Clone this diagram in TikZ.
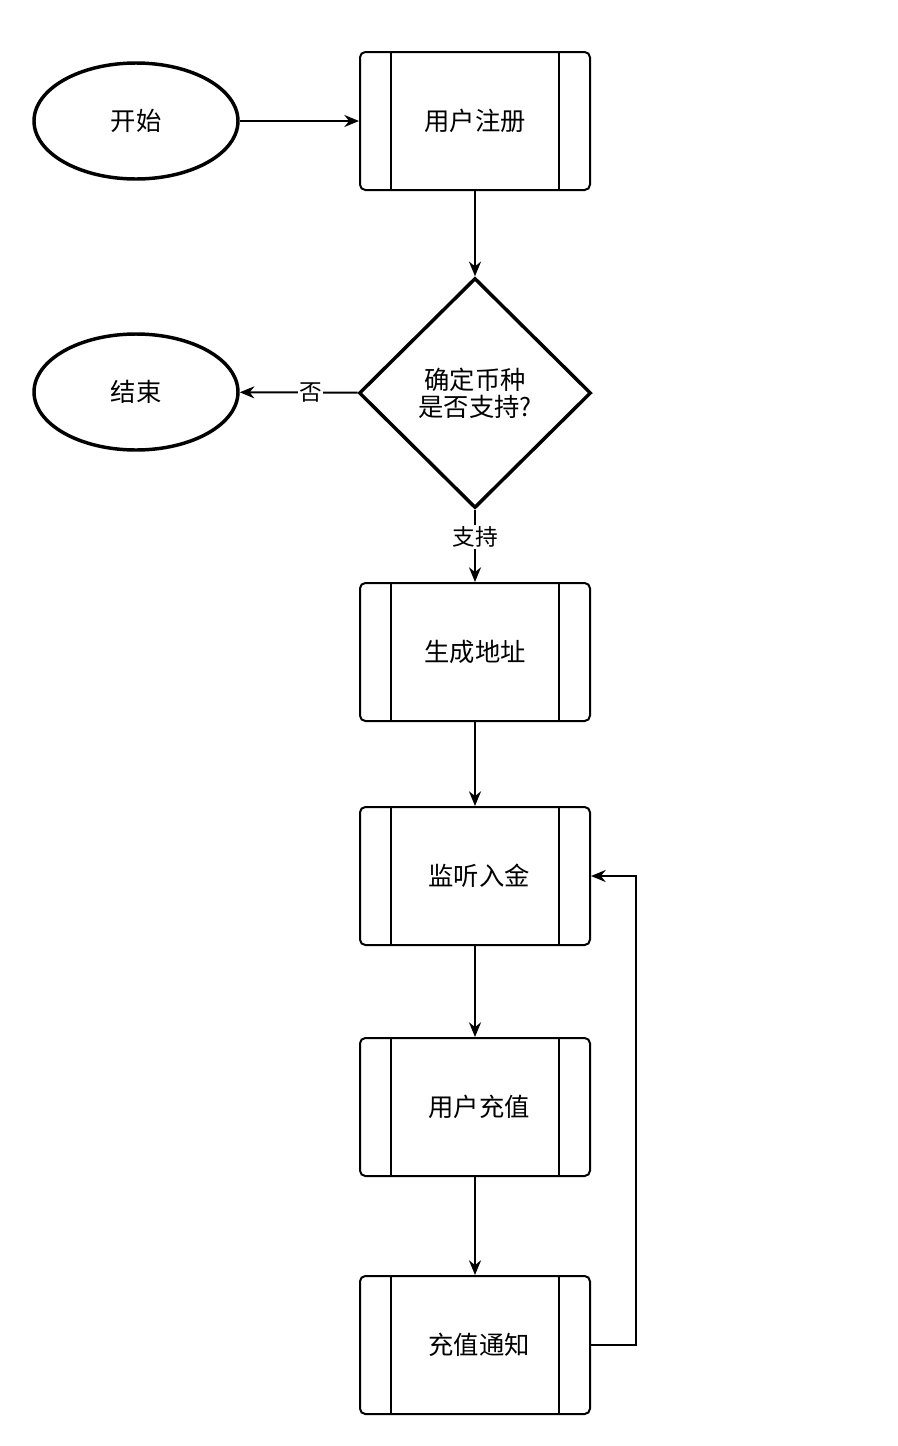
\documentclass[tikz,border=0pt]{standalone}
\usepackage{fontspec}
\setmainfont{Noto Sans CJK SC}
\usetikzlibrary{shapes.geometric,arrows.meta}
\begin{document}
\begin{tikzpicture}[x=0.75pt,y=-0.75pt,
  term/.style={ellipse,draw,line width=2.6pt,minimum width=204*0.75pt,minimum height=116*0.75pt,inner sep=0pt},
  proc/.style={draw,line width=1.5pt,rounded corners=4pt,minimum width=230*0.75pt,minimum height=138*0.75pt,inner sep=0pt},
  dec/.style={diamond,draw,line width=2.6pt,minimum width=232*0.75pt,minimum height=230*0.75pt,inner sep=0pt,aspect=1.01,align=center},
  arr/.style={-{Stealth[length=11pt,width=9pt]},line width=1.5pt},
  lbl/.style={fill=white,inner sep=1pt,font=\fontsize{17}{20}\selectfont},
  font=\fontsize{19}{24}\selectfont]
\useasboundingbox (0,0) rectangle (898,1446);
\newcommand{\procbox}[3]{%
  \node[proc] (#1) at (475,#2) {#3};
  \draw[line width=1.5pt] ([xshift=32*0.75pt]#1.north west) -- ([xshift=32*0.75pt]#1.south west);
  \draw[line width=1.5pt] ([xshift=-32*0.75pt]#1.north east) -- ([xshift=-32*0.75pt]#1.south east);}
\node[term] (start) at (136,121) {开始};
\node[term] (end) at (136,392) {结束};
\procbox{reg}{121}{用户注册}
\node[dec] (dec) at (475,393) {确定币种\\[-4pt]是否支持?};
\procbox{gen}{652}{生成地址}
\procbox{mon}{876}{\hspace*{6pt}监听入金}
\procbox{dep}{1107}{\hspace*{6pt}用户充值}
\procbox{note}{1345}{\hspace*{6pt}充值通知}
\draw[arr] (start) -- (reg);
\draw[arr] (reg) -- (dec);
\draw[arr] (dec) -- node[lbl,pos=0.4]{否} (end);
\draw[arr] (dec) -- node[lbl,pos=0.38]{支持} (gen);
\draw[arr] (gen) -- (mon);
\draw[arr] (mon) -- (dep);
\draw[arr] (dep) -- (note);
\coordinate (c1) at (636,1345);
\coordinate (c2) at (636,876);
\draw[arr] (note.east) -- (c1) -- (c2) -- (mon.east);
\end{tikzpicture}
\end{document}
